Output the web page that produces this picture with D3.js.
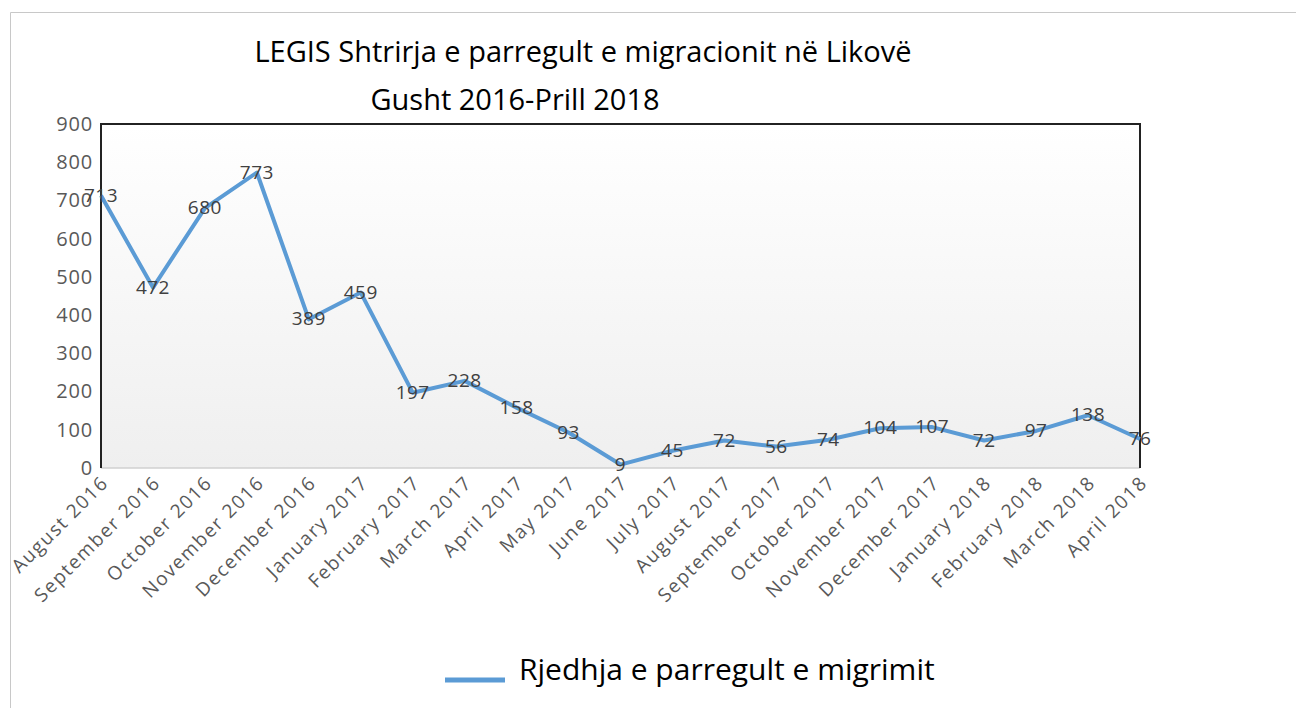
<!DOCTYPE html>
<html><head><meta charset="utf-8">
<script src="https://cdn.jsdelivr.net/npm/d3@7"></script>
<style>body{margin:0;background:#fff;}svg{display:block;}</style>
</head><body>
<svg id="c" width="1296" height="708"></svg>
<script>
const categories = ["August 2016","September 2016","October 2016","November 2016","December 2016","January 2017","February 2017","March 2017","April 2017","May 2017","June 2017","July 2017","August 2017","September 2017","October 2017","November 2017","December 2017","January 2018","February 2018","March 2018","April 2018"];
const values = [713,472,680,773,389,459,197,228,158,93,9,45,72,56,74,104,107,72,97,138,76];
const yTicks = [0,100,200,300,400,500,600,700,800,900];
const seriesName = "Rjedhja e parregult e migrimit";
const titleLines = ["LEGIS Shtrirja e parregult e migracionit në Likovë","Gusht 2016-Prill 2018"];

const svg = d3.select("#c");
const font = "'Open Sans', sans-serif";
const L=101, R=1140, T=124, B=468;

// outer frame
svg.append("path").attr("d","M10.5,708 V12.5 H1296").attr("fill","none").attr("stroke","#c8c8c8").attr("stroke-width",1);

const defs = svg.append("defs");
const g = defs.append("linearGradient").attr("id","bg").attr("x1",0).attr("y1",0).attr("x2",0).attr("y2",1);
g.append("stop").attr("offset","0%").attr("stop-color","#ffffff");
g.append("stop").attr("offset","100%").attr("stop-color","#efefef");

const x = d3.scalePoint().domain(categories).range([L,R]);
const y = d3.scaleLinear().domain([0,900]).range([B,T]);

svg.append("rect").attr("x",L).attr("y",T).attr("width",R-L).attr("height",B-T).attr("fill","url(#bg)");
// borders
svg.append("line").attr("x1",L).attr("x2",R).attr("y1",B).attr("y2",B).attr("stroke","#d0d0d0").attr("stroke-width",1.5);
svg.append("path").attr("d",`M${L},${B} V${T} H${R} V${B}`).attr("fill","none").attr("stroke","#222").attr("stroke-width",2);

// y axis
const ya = svg.append("g").attr("transform",`translate(${L},0)`).call(d3.axisLeft(y).tickValues(yTicks).tickSize(0).tickPadding(8));
ya.select(".domain").remove();
ya.selectAll("text").attr("font-family",font).attr("font-size",20).attr("letter-spacing",0.8).attr("fill","#595959");

// x axis
const xa = svg.append("g").attr("transform",`translate(0,${B})`).call(d3.axisBottom(x).tickSize(0));
xa.select(".domain").remove();
xa.selectAll("text").attr("font-family",font).attr("font-size",19).attr("letter-spacing",1.6).attr("fill","#595959")
  .attr("text-anchor","end").attr("dy",0).attr("y",0)
  .attr("transform","translate(8,16) rotate(-45)");

// line
svg.append("path").datum(values).attr("fill","none").attr("stroke","#5b9bd5").attr("stroke-width",4).attr("stroke-linejoin","round")
  .attr("d", d3.line().x((d,i)=>x(categories[i])).y(d=>y(d)));

// labels
svg.append("g").selectAll("text").data(values).join("text")
  .attr("x",(d,i)=>x(categories[i])).attr("y",d=>y(d)+1)
  .attr("text-anchor","middle").attr("dominant-baseline","middle")
  .attr("font-family",font).attr("font-size",19).attr("letter-spacing",0.5).attr("fill","#404040").text(d=>d);

// title
svg.append("text").attr("x",583).attr("y",62).attr("text-anchor","middle").attr("font-family",font).attr("font-size",29).attr("fill","#000").text(titleLines[0]);
svg.append("text").attr("x",515).attr("y",110).attr("text-anchor","middle").attr("font-family",font).attr("font-size",29).attr("fill","#000").text(titleLines[1]);

// legend
svg.append("line").attr("x1",445).attr("x2",505).attr("y1",680).attr("y2",680).attr("stroke","#5b9bd5").attr("stroke-width",5);
svg.append("text").attr("x",519).attr("y",680).attr("font-family",font).attr("font-size",30).attr("fill","#000").text(seriesName);
</script>
</body></html>
